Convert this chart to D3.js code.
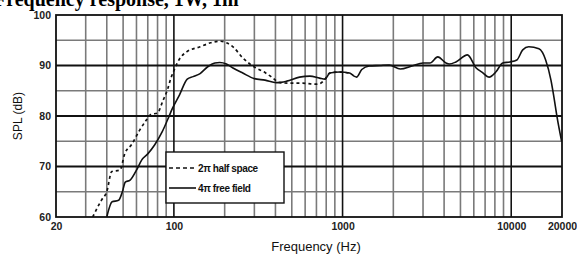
<!DOCTYPE html>
<html><head><meta charset="utf-8">
<script src="https://cdn.jsdelivr.net/npm/d3@7/dist/d3.min.js"></script>
<style>html,body{margin:0;padding:0;background:#fff;overflow:hidden}</style>
</head><body>
<svg id="chart" width="577" height="257"></svg>
<script>
const titleText = "Frequency response, 1W, 1m";
const xTickValues = [20, 100, 1000, 10000, 20000];
const xTickLabels = ["20", "100", "1000", "10000", "20000"];
const yTickValues = [60, 70, 80, 90, 100];
const xMinorGrid = [30,40,50,60,70,80,90,200,300,400,500,600,700,800,900,2000,3000,4000,5000,6000,7000,8000,9000];
const xMajorGrid = [100, 1000, 10000];
const yMinorGrid = [65, 75, 85, 95];
const yMajorGrid = [70, 80, 90];
const seriesNames = ["2\u03c0 half space", "4\u03c0 free field"];
// 4π free field (solid)
const freeFreq = [40,43,47,49.5,51.5,55,60.5,64.5,70,77,85,91.6,98,108,120,130,143,158,175,187,205,224,256,300,347,405,466,556,640,731,787,840,961,1100,1170,1210,1300,1440,1660,1890,2200,2580,3000,3300,3670,4100,4300,4700,5500,6200,6700,7400,8100,8900,9800,10800,11700,12700,14600,16000,17200,17900,18700,19900];
const freeSPL  = [60,63,63.3,65,66.9,67.3,69.5,71.3,72.5,74.3,76.8,79.2,81.5,84.2,87.3,87.8,88.4,89.7,90.5,90.6,90.3,89.5,88.5,87.4,87.1,86.6,86.9,87.7,87.9,87.5,87.3,88.5,88.7,88.5,87.9,87.7,89.2,89.9,90,90.1,89.3,89.9,90.5,90.5,91.7,90.5,90.3,90.7,92.1,89.5,88.7,87.7,88.7,90.5,90.7,91.1,93.1,93.7,93.3,91.1,87.1,83.8,79.8,75];
// 2π half space (dashed)
const halfFreq = [33,37.3,40,42.8,47.9,51.2,56,62.7,68.7,73,80,86,91.6,96,100,108,119,143,165,190,205,224,256,300,347,380,426,487,580,686,731,787,840,961,1100];
const halfSPL  = [60,63.4,65,69,69.3,72.6,74.3,77.2,79.2,80.3,80.6,83,85.2,87.5,89,91.3,92.7,93.7,94.5,94.8,94.5,93.7,91.5,89.7,88.6,87.7,86.6,86.5,86.5,86.3,86.4,87.3,88.5,88.7,88.5];

const svg = d3.select("#chart");
const L = 56, R = 562, T = 15, B = 217;
const x = d3.scaleLog().domain([20, 20000]).range([L, R]);
const y = d3.scaleLinear().domain([60, 100]).range([B, T]);

// title (partially cut at top)
svg.append("text").attr("x", -6).attr("y", 6)
  .attr("font-family", "Liberation Serif").attr("font-weight", "bold").attr("font-size", 20)
  .attr("fill", "#000").text(titleText);

const g = svg.append("g");
// minor grids
g.selectAll(".vmin").data(xMinorGrid).join("line")
  .attr("x1", d => x(d)).attr("x2", d => x(d)).attr("y1", T).attr("y2", B)
  .attr("stroke", "#7a7a7a").attr("stroke-width", 1.6);
g.selectAll(".hmin").data(yMinorGrid).join("line")
  .attr("x1", L).attr("x2", R).attr("y1", d => y(d)).attr("y2", d => y(d))
  .attr("stroke", "#7a7a7a").attr("stroke-width", 1.6);
// major grids
g.selectAll(".vmaj").data(xMajorGrid).join("line")
  .attr("x1", d => x(d)).attr("x2", d => x(d)).attr("y1", T).attr("y2", B)
  .attr("stroke", "#111").attr("stroke-width", 1.6);
g.selectAll(".hmaj").data(yMajorGrid).join("line")
  .attr("x1", L).attr("x2", R).attr("y1", d => y(d)).attr("y2", d => y(d))
  .attr("stroke", "#111").attr("stroke-width", 1.8);

// curves
const clip = svg.append("clipPath").attr("id", "clp").append("rect")
  .attr("x", L).attr("y", T).attr("width", R - L).attr("height", B - T);
const line = d3.line().x(d => x(d[0])).y(d => y(d[1])).curve(d3.curveMonotoneX);
const halfData = halfFreq.map((f, i) => [f, halfSPL[i]]);
const freeData = freeFreq.map((f, i) => [f, freeSPL[i]]);
svg.append("path").datum(halfData).attr("d", line).attr("fill", "none")
  .attr("stroke", "#111").attr("stroke-width", 1.7).attr("stroke-dasharray", "3,3")
  .attr("clip-path", "url(#clp)");
svg.append("path").datum(freeData).attr("d", line).attr("fill", "none")
  .attr("stroke", "#111").attr("stroke-width", 1.6)
  .attr("clip-path", "url(#clp)");

// frame
svg.append("rect").attr("x", L).attr("y", T).attr("width", R - L).attr("height", B - T)
  .attr("fill", "none").attr("stroke", "#111").attr("stroke-width", 1.8);

// axes
const xAxis = d3.axisBottom(x).tickValues(xTickValues).tickSize(0).tickPadding(4)
  .tickFormat((d, i) => xTickLabels[i]);
const xa = svg.append("g").attr("transform", `translate(0,${B + 2})`).call(xAxis);
xa.select(".domain").remove();
xa.selectAll("text").attr("font-family", "Liberation Sans").attr("font-size", 10.5)
  .attr("font-weight", "bold").attr("fill", "#222");
const yAxis = d3.axisLeft(y).tickValues(yTickValues).tickSize(0).tickPadding(4);
const ya = svg.append("g").attr("transform", `translate(${L - 1},0)`).call(yAxis);
ya.select(".domain").remove();
ya.selectAll("text").attr("font-family", "Liberation Sans").attr("font-size", 10.5)
  .attr("font-weight", "bold").attr("fill", "#222");

// axis titles
svg.append("text").attr("x", 316).attr("y", 251).attr("text-anchor", "middle")
  .attr("font-family", "Liberation Sans").attr("font-size", 13).attr("fill", "#111")
  .text("Frequency (Hz)");
svg.append("text").attr("transform", "translate(22,116) rotate(-90)").attr("text-anchor", "middle")
  .attr("font-family", "Liberation Sans").attr("font-size", 12).attr("fill", "#111")
  .text("SPL (dB)");

// legend
const lg = svg.append("g");
lg.append("rect").attr("x", 166).attr("y", 152).attr("width", 118).attr("height", 51)
  .attr("fill", "#fff").attr("stroke", "#111").attr("stroke-width", 1.4);
const rows = [168, 188];
seriesNames.forEach((name, i) => {
  lg.append("line").attr("x1", 169).attr("x2", 196).attr("y1", rows[i]).attr("y2", rows[i])
    .attr("stroke", "#111").attr("stroke-width", 1.6)
    .attr("stroke-dasharray", i === 0 ? "4,3" : null);
  lg.append("text").attr("x", 198).attr("y", rows[i]).attr("dy", "0.35em")
    .attr("font-family", "Liberation Sans").attr("font-size", 10).attr("font-weight", "bold")
    .attr("letter-spacing", -0.4).attr("fill", "#111").text(name);
});
</script>
</body></html>
